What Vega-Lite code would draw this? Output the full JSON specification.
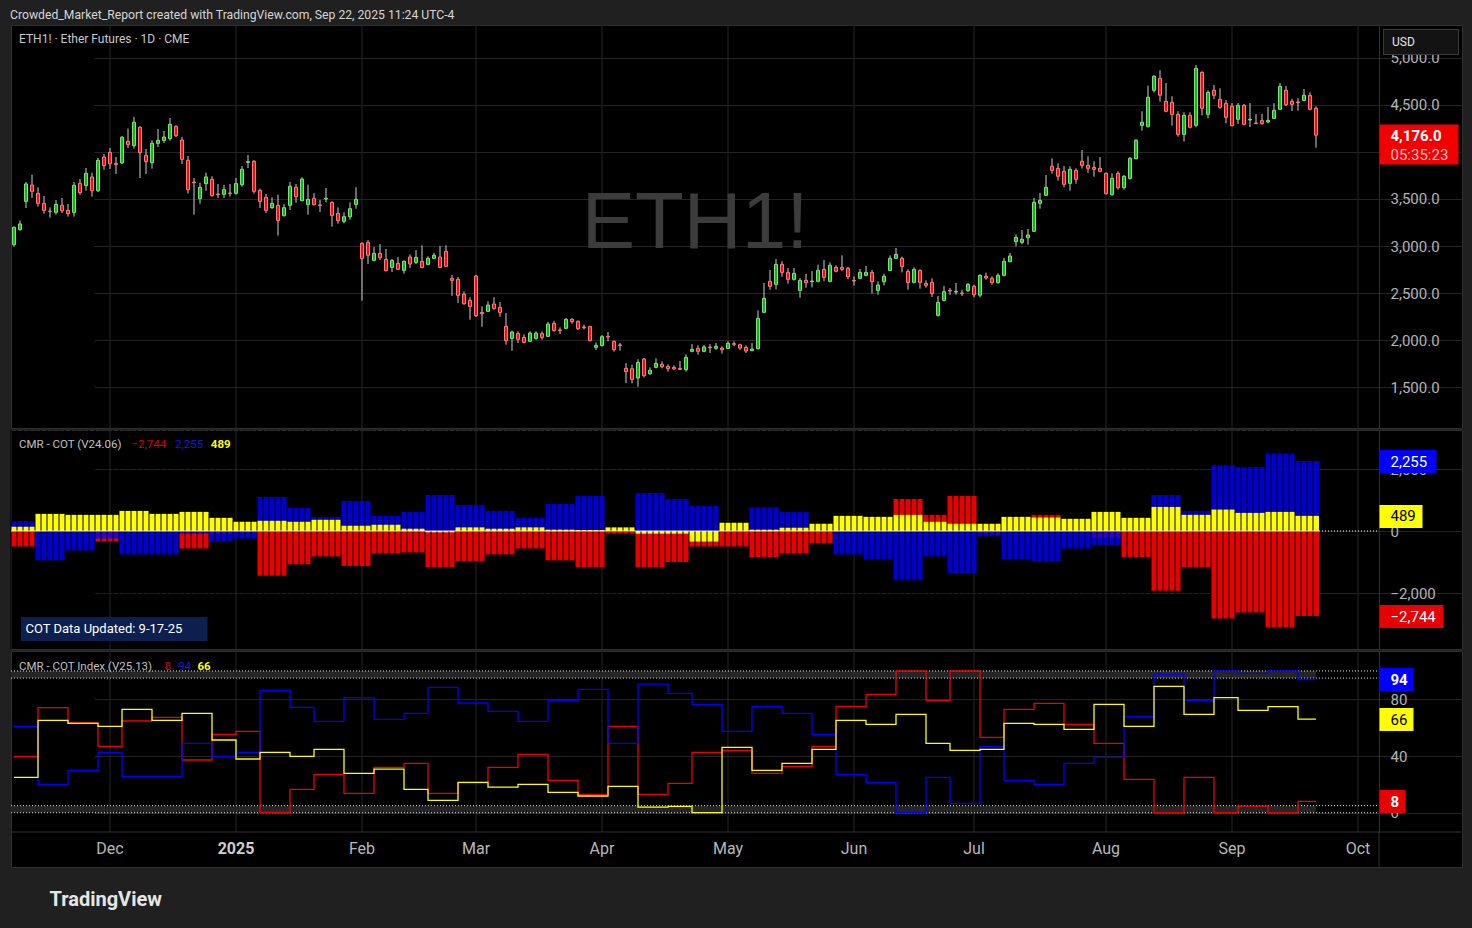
{
"$schema": "https://vega.github.io/schema/vega-lite/v6.json",
"background": "#202020",
"padding": {"left": 10, "right": 11, "top": 8, "bottom": 21},
"title": {"text": "Crowded_Market_Report created with TradingView.com, Sep 22, 2025 11:24 UTC-4", "anchor": "start", "font": "Roboto", "fontSize": 12.2, "fontWeight": "normal", "color": "#d6d6d6", "offset": 3},
"config": {"font": "Roboto", "view": {"fill": "#000000", "stroke": "#303030", "strokeWidth": 1}, "concat": {"spacing": 0}, "axis": {"labelFont": "Roboto", "gridColor": "#242424", "domainColor": "#303030"}},
"spacing": 0,
"resolve": {"scale": {"x": "shared"}},
"datasets": {
"months": [
{"d":"2024-12-02","m":"Dec"},{"d":"2025-01-02","m":"2025"},{"d":"2025-02-03","m":"Feb"},{"d":"2025-03-03","m":"Mar"},{"d":"2025-04-01","m":"Apr"},{"d":"2025-05-01","m":"May"},{"d":"2025-06-02","m":"Jun"},{"d":"2025-07-01","m":"Jul"},{"d":"2025-08-01","m":"Aug"},{"d":"2025-09-02","m":"Sep"},{"d":"2025-10-01","m":"Oct"}
],
"candles": [
{"d":"2024-11-07","o":3014,"h":3209,"l":2993,"c":3198},
{"d":"2024-11-08","o":3173,"h":3272,"l":3163,"c":3234},
{"d":"2024-11-11","o":3474,"h":3679,"l":3403,"c":3658},
{"d":"2024-11-12","o":3648,"h":3757,"l":3510,"c":3580},
{"d":"2024-11-13","o":3559,"h":3623,"l":3418,"c":3453},
{"d":"2024-11-14","o":3453,"h":3531,"l":3343,"c":3379},
{"d":"2024-11-15","o":3370,"h":3410,"l":3301,"c":3366},
{"d":"2024-11-18","o":3357,"h":3488,"l":3333,"c":3442},
{"d":"2024-11-19","o":3432,"h":3510,"l":3350,"c":3375},
{"d":"2024-11-20","o":3379,"h":3446,"l":3312,"c":3343},
{"d":"2024-11-21","o":3357,"h":3679,"l":3312,"c":3644},
{"d":"2024-11-22","o":3665,"h":3711,"l":3545,"c":3566},
{"d":"2024-11-25","o":3641,"h":3828,"l":3587,"c":3771},
{"d":"2024-11-26","o":3733,"h":3779,"l":3524,"c":3587},
{"d":"2024-11-27","o":3587,"h":3934,"l":3573,"c":3910},
{"d":"2024-11-29","o":3945,"h":3977,"l":3810,"c":3853},
{"d":"2024-12-02","o":3994,"h":4040,"l":3818,"c":3874},
{"d":"2024-12-03","o":3878,"h":3945,"l":3764,"c":3864},
{"d":"2024-12-04","o":3881,"h":4168,"l":3871,"c":4154},
{"d":"2024-12-05","o":4111,"h":4246,"l":4040,"c":4076},
{"d":"2024-12-06","o":4065,"h":4370,"l":4033,"c":4313},
{"d":"2024-12-09","o":4260,"h":4271,"l":3722,"c":3991},
{"d":"2024-12-10","o":3963,"h":4030,"l":3764,"c":3895},
{"d":"2024-12-11","o":3885,"h":4122,"l":3821,"c":4090},
{"d":"2024-12-12","o":4090,"h":4242,"l":4051,"c":4122},
{"d":"2024-12-13","o":4122,"h":4221,"l":4094,"c":4157},
{"d":"2024-12-16","o":4140,"h":4359,"l":4118,"c":4292},
{"d":"2024-12-17","o":4271,"h":4281,"l":4157,"c":4171},
{"d":"2024-12-18","o":4125,"h":4157,"l":3871,"c":3920},
{"d":"2024-12-19","o":3910,"h":3956,"l":3556,"c":3598},
{"d":"2024-12-20","o":3679,"h":3722,"l":3333,"c":3672},
{"d":"2024-12-23","o":3503,"h":3672,"l":3449,"c":3623},
{"d":"2024-12-24","o":3662,"h":3779,"l":3587,"c":3733},
{"d":"2024-12-26","o":3708,"h":3740,"l":3524,"c":3534},
{"d":"2024-12-27","o":3552,"h":3658,"l":3510,"c":3545},
{"d":"2024-12-30","o":3549,"h":3648,"l":3510,"c":3598},
{"d":"2024-12-31","o":3563,"h":3658,"l":3524,"c":3556},
{"d":"2025-01-02","o":3559,"h":3722,"l":3545,"c":3662},
{"d":"2025-01-03","o":3651,"h":3849,"l":3630,"c":3814},
{"d":"2025-01-06","o":3888,"h":3966,"l":3828,"c":3895},
{"d":"2025-01-07","o":3899,"h":3913,"l":3556,"c":3580},
{"d":"2025-01-08","o":3591,"h":3609,"l":3403,"c":3474},
{"d":"2025-01-09","o":3517,"h":3552,"l":3350,"c":3379},
{"d":"2025-01-10","o":3407,"h":3517,"l":3393,"c":3453},
{"d":"2025-01-13","o":3432,"h":3545,"l":3110,"c":3272},
{"d":"2025-01-14","o":3322,"h":3446,"l":3312,"c":3407},
{"d":"2025-01-15","o":3432,"h":3679,"l":3382,"c":3634},
{"d":"2025-01-16","o":3623,"h":3658,"l":3460,"c":3524},
{"d":"2025-01-17","o":3481,"h":3729,"l":3474,"c":3711},
{"d":"2025-01-21","o":3439,"h":3651,"l":3332,"c":3495},
{"d":"2025-01-22","o":3506,"h":3562,"l":3431,"c":3439},
{"d":"2025-01-23","o":3435,"h":3488,"l":3361,"c":3428},
{"d":"2025-01-24","o":3499,"h":3615,"l":3463,"c":3506},
{"d":"2025-01-27","o":3463,"h":3474,"l":3205,"c":3325},
{"d":"2025-01-28","o":3346,"h":3410,"l":3237,"c":3269},
{"d":"2025-01-29","o":3262,"h":3357,"l":3240,"c":3311},
{"d":"2025-01-30","o":3311,"h":3463,"l":3279,"c":3396},
{"d":"2025-01-31","o":3442,"h":3623,"l":3396,"c":3495},
{"d":"2025-02-03","o":3028,"h":3039,"l":2419,"c":2869},
{"d":"2025-02-04","o":3039,"h":3063,"l":2809,"c":2901},
{"d":"2025-02-05","o":2847,"h":2989,"l":2837,"c":2922},
{"d":"2025-02-06","o":2922,"h":3021,"l":2851,"c":2876},
{"d":"2025-02-07","o":2858,"h":2968,"l":2731,"c":2738},
{"d":"2025-02-10","o":2773,"h":2862,"l":2724,"c":2847},
{"d":"2025-02-11","o":2816,"h":2883,"l":2745,"c":2752},
{"d":"2025-02-12","o":2741,"h":2847,"l":2706,"c":2837},
{"d":"2025-02-13","o":2883,"h":2911,"l":2766,"c":2809},
{"d":"2025-02-14","o":2826,"h":2957,"l":2809,"c":2879},
{"d":"2025-02-18","o":2837,"h":3007,"l":2763,"c":2773},
{"d":"2025-02-19","o":2805,"h":2890,"l":2794,"c":2869},
{"d":"2025-02-20","o":2869,"h":2929,"l":2862,"c":2901},
{"d":"2025-02-21","o":2883,"h":3000,"l":2763,"c":2773},
{"d":"2025-02-24","o":2943,"h":3007,"l":2777,"c":2784},
{"d":"2025-02-25","o":2656,"h":2692,"l":2472,"c":2635},
{"d":"2025-02-26","o":2646,"h":2671,"l":2395,"c":2476},
{"d":"2025-02-27","o":2490,"h":2518,"l":2377,"c":2387},
{"d":"2025-02-28","o":2423,"h":2455,"l":2218,"c":2359},
{"d":"2025-03-03","o":2681,"h":2695,"l":2246,"c":2260},
{"d":"2025-03-04","o":2295,"h":2359,"l":2143,"c":2281},
{"d":"2025-03-05","o":2306,"h":2412,"l":2299,"c":2373},
{"d":"2025-03-06","o":2384,"h":2455,"l":2324,"c":2338},
{"d":"2025-03-07","o":2349,"h":2405,"l":2249,"c":2295},
{"d":"2025-03-10","o":2147,"h":2288,"l":1952,"c":1995},
{"d":"2025-03-11","o":2019,"h":2101,"l":1888,"c":2087},
{"d":"2025-03-12","o":2069,"h":2094,"l":1970,"c":2009},
{"d":"2025-03-13","o":2030,"h":2062,"l":1966,"c":1977},
{"d":"2025-03-14","o":1988,"h":2094,"l":1980,"c":2076},
{"d":"2025-03-17","o":2019,"h":2094,"l":2005,"c":2076},
{"d":"2025-03-18","o":2069,"h":2094,"l":2005,"c":2030},
{"d":"2025-03-19","o":2041,"h":2193,"l":2034,"c":2172},
{"d":"2025-03-20","o":2179,"h":2205,"l":2090,"c":2104},
{"d":"2025-03-21","o":2108,"h":2136,"l":2065,"c":2101},
{"d":"2025-03-24","o":2126,"h":2235,"l":2115,"c":2221},
{"d":"2025-03-25","o":2221,"h":2235,"l":2175,"c":2196},
{"d":"2025-03-26","o":2200,"h":2211,"l":2108,"c":2122},
{"d":"2025-03-27","o":2140,"h":2164,"l":2115,"c":2133},
{"d":"2025-03-28","o":2147,"h":2150,"l":1988,"c":1995},
{"d":"2025-03-31","o":1924,"h":1977,"l":1896,"c":1945},
{"d":"2025-04-01","o":1942,"h":2055,"l":1934,"c":2037},
{"d":"2025-04-02","o":2041,"h":2087,"l":1988,"c":2034},
{"d":"2025-04-03","o":1988,"h":1995,"l":1878,"c":1899},
{"d":"2025-04-04","o":1950,"h":1971,"l":1888,"c":1943},
{"d":"2025-04-07","o":1701,"h":1757,"l":1545,"c":1666},
{"d":"2025-04-08","o":1697,"h":1740,"l":1542,"c":1584},
{"d":"2025-04-09","o":1598,"h":1798,"l":1505,"c":1763},
{"d":"2025-04-10","o":1800,"h":1811,"l":1606,"c":1623},
{"d":"2025-04-11","o":1644,"h":1712,"l":1634,"c":1680},
{"d":"2025-04-14","o":1712,"h":1807,"l":1701,"c":1754},
{"d":"2025-04-15","o":1744,"h":1775,"l":1701,"c":1719},
{"d":"2025-04-16","o":1722,"h":1744,"l":1666,"c":1698},
{"d":"2025-04-17","o":1712,"h":1733,"l":1687,"c":1694},
{"d":"2025-04-21","o":1701,"h":1779,"l":1683,"c":1690},
{"d":"2025-04-22","o":1687,"h":1850,"l":1666,"c":1818},
{"d":"2025-04-23","o":1882,"h":1959,"l":1871,"c":1903},
{"d":"2025-04-24","o":1913,"h":1945,"l":1846,"c":1882},
{"d":"2025-04-25","o":1882,"h":1949,"l":1871,"c":1928},
{"d":"2025-04-28","o":1928,"h":1959,"l":1864,"c":1920},
{"d":"2025-04-29","o":1913,"h":1970,"l":1899,"c":1935},
{"d":"2025-04-30","o":1917,"h":1935,"l":1857,"c":1899},
{"d":"2025-05-01","o":1913,"h":1988,"l":1906,"c":1966},
{"d":"2025-05-02","o":1963,"h":1988,"l":1938,"c":1956},
{"d":"2025-05-05","o":1952,"h":1963,"l":1899,"c":1917},
{"d":"2025-05-06","o":1924,"h":1945,"l":1864,"c":1885},
{"d":"2025-05-07","o":1889,"h":1970,"l":1885,"c":1906},
{"d":"2025-05-08","o":1910,"h":2317,"l":1903,"c":2232},
{"d":"2025-05-09","o":2296,"h":2607,"l":2288,"c":2444},
{"d":"2025-05-12","o":2625,"h":2745,"l":2536,"c":2572},
{"d":"2025-05-13","o":2593,"h":2862,"l":2540,"c":2805},
{"d":"2025-05-14","o":2805,"h":2837,"l":2674,"c":2720},
{"d":"2025-05-15","o":2720,"h":2766,"l":2600,"c":2646},
{"d":"2025-05-16","o":2646,"h":2766,"l":2632,"c":2710},
{"d":"2025-05-19","o":2529,"h":2660,"l":2451,"c":2635},
{"d":"2025-05-20","o":2635,"h":2703,"l":2557,"c":2611},
{"d":"2025-05-21","o":2621,"h":2734,"l":2561,"c":2628},
{"d":"2025-05-22","o":2625,"h":2802,"l":2614,"c":2741},
{"d":"2025-05-23","o":2752,"h":2851,"l":2625,"c":2667},
{"d":"2025-05-27","o":2625,"h":2826,"l":2614,"c":2795},
{"d":"2025-05-28","o":2773,"h":2795,"l":2720,"c":2731},
{"d":"2025-05-29","o":2773,"h":2901,"l":2731,"c":2752},
{"d":"2025-05-30","o":2763,"h":2777,"l":2646,"c":2674},
{"d":"2025-06-02","o":2635,"h":2678,"l":2579,"c":2628},
{"d":"2025-06-03","o":2657,"h":2756,"l":2646,"c":2720},
{"d":"2025-06-04","o":2688,"h":2788,"l":2678,"c":2720},
{"d":"2025-06-05","o":2720,"h":2745,"l":2494,"c":2621},
{"d":"2025-06-06","o":2529,"h":2625,"l":2483,"c":2586},
{"d":"2025-06-09","o":2621,"h":2706,"l":2582,"c":2678},
{"d":"2025-06-10","o":2741,"h":2901,"l":2734,"c":2869},
{"d":"2025-06-11","o":2869,"h":2979,"l":2862,"c":2911},
{"d":"2025-06-12","o":2869,"h":2887,"l":2720,"c":2784},
{"d":"2025-06-13","o":2731,"h":2752,"l":2536,"c":2614},
{"d":"2025-06-16","o":2614,"h":2773,"l":2603,"c":2752},
{"d":"2025-06-17","o":2741,"h":2752,"l":2547,"c":2614},
{"d":"2025-06-18","o":2603,"h":2635,"l":2557,"c":2582},
{"d":"2025-06-20","o":2614,"h":2657,"l":2458,"c":2497},
{"d":"2025-06-23","o":2264,"h":2469,"l":2250,"c":2402},
{"d":"2025-06-24","o":2423,"h":2575,"l":2412,"c":2515},
{"d":"2025-06-25","o":2529,"h":2554,"l":2483,"c":2522},
{"d":"2025-06-26","o":2511,"h":2607,"l":2483,"c":2518},
{"d":"2025-06-27","o":2501,"h":2536,"l":2469,"c":2494},
{"d":"2025-06-30","o":2526,"h":2607,"l":2515,"c":2593},
{"d":"2025-07-01","o":2572,"h":2589,"l":2455,"c":2483},
{"d":"2025-07-02","o":2478,"h":2700,"l":2455,"c":2688},
{"d":"2025-07-03","o":2678,"h":2717,"l":2642,"c":2660},
{"d":"2025-07-07","o":2657,"h":2678,"l":2589,"c":2611},
{"d":"2025-07-08","o":2611,"h":2710,"l":2600,"c":2688},
{"d":"2025-07-09","o":2688,"h":2872,"l":2678,"c":2837},
{"d":"2025-07-10","o":2834,"h":2926,"l":2827,"c":2894},
{"d":"2025-07-11","o":3046,"h":3124,"l":2996,"c":3092},
{"d":"2025-07-14","o":3039,"h":3170,"l":3021,"c":3071},
{"d":"2025-07-15","o":3088,"h":3180,"l":3014,"c":3117},
{"d":"2025-07-16","o":3156,"h":3510,"l":3149,"c":3464},
{"d":"2025-07-17","o":3453,"h":3563,"l":3396,"c":3485},
{"d":"2025-07-18","o":3538,"h":3754,"l":3531,"c":3623},
{"d":"2025-07-21","o":3846,"h":3931,"l":3768,"c":3803},
{"d":"2025-07-22","o":3824,"h":3878,"l":3694,"c":3740},
{"d":"2025-07-23","o":3793,"h":3849,"l":3623,"c":3655},
{"d":"2025-07-24","o":3665,"h":3846,"l":3587,"c":3814},
{"d":"2025-07-25","o":3803,"h":3824,"l":3662,"c":3708},
{"d":"2025-07-28","o":3899,"h":4019,"l":3821,"c":3856},
{"d":"2025-07-29","o":3856,"h":3952,"l":3775,"c":3824},
{"d":"2025-07-30","o":3835,"h":3899,"l":3736,"c":3814},
{"d":"2025-07-31","o":3824,"h":3945,"l":3782,"c":3793},
{"d":"2025-08-01","o":3771,"h":3782,"l":3545,"c":3555},
{"d":"2025-08-04","o":3545,"h":3771,"l":3534,"c":3718},
{"d":"2025-08-05","o":3771,"h":3793,"l":3598,"c":3619},
{"d":"2025-08-06","o":3619,"h":3754,"l":3598,"c":3740},
{"d":"2025-08-07","o":3718,"h":3945,"l":3704,"c":3931},
{"d":"2025-08-08","o":3927,"h":4136,"l":3920,"c":4122},
{"d":"2025-08-11","o":4281,"h":4430,"l":4224,"c":4313},
{"d":"2025-08-12","o":4270,"h":4702,"l":4256,"c":4578},
{"d":"2025-08-13","o":4653,"h":4815,"l":4631,"c":4801},
{"d":"2025-08-14","o":4780,"h":4865,"l":4532,"c":4600},
{"d":"2025-08-15","o":4536,"h":4730,"l":4419,"c":4430},
{"d":"2025-08-18","o":4525,"h":4589,"l":4277,"c":4398},
{"d":"2025-08-19","o":4398,"h":4430,"l":4161,"c":4185},
{"d":"2025-08-20","o":4185,"h":4419,"l":4108,"c":4387},
{"d":"2025-08-21","o":4387,"h":4419,"l":4249,"c":4260},
{"d":"2025-08-22","o":4281,"h":4922,"l":4260,"c":4886},
{"d":"2025-08-25","o":4844,"h":4854,"l":4387,"c":4462},
{"d":"2025-08-26","o":4398,"h":4653,"l":4355,"c":4631},
{"d":"2025-08-27","o":4653,"h":4709,"l":4561,"c":4600},
{"d":"2025-08-28","o":4557,"h":4674,"l":4458,"c":4472},
{"d":"2025-08-29","o":4515,"h":4550,"l":4302,"c":4366},
{"d":"2025-09-02","o":4483,"h":4518,"l":4270,"c":4277},
{"d":"2025-09-03","o":4345,"h":4518,"l":4295,"c":4493},
{"d":"2025-09-04","o":4493,"h":4508,"l":4281,"c":4292},
{"d":"2025-09-05","o":4338,"h":4518,"l":4263,"c":4345},
{"d":"2025-09-08","o":4306,"h":4401,"l":4295,"c":4299},
{"d":"2025-09-09","o":4331,"h":4401,"l":4288,"c":4299},
{"d":"2025-09-10","o":4316,"h":4476,"l":4302,"c":4334},
{"d":"2025-09-11","o":4355,"h":4515,"l":4348,"c":4440},
{"d":"2025-09-12","o":4451,"h":4730,"l":4444,"c":4695},
{"d":"2025-09-15","o":4653,"h":4699,"l":4486,"c":4500},
{"d":"2025-09-16","o":4536,"h":4561,"l":4433,"c":4504},
{"d":"2025-09-17","o":4529,"h":4568,"l":4437,"c":4522},
{"d":"2025-09-18","o":4546,"h":4667,"l":4536,"c":4600},
{"d":"2025-09-19","o":4600,"h":4631,"l":4440,"c":4451},
{"d":"2025-09-22","o":4462,"h":4483,"l":4044,"c":4176}
],
"cot": [
{"d":"2024-11-07","e":"2024-11-13","r":-500,"b":319,"y":138},
{"d":"2024-11-13","e":"2024-11-20","r":394,"b":-947,"y":553},
{"d":"2024-11-20","e":"2024-11-27","r":107,"b":-628,"y":521},
{"d":"2024-11-27","e":"2024-12-04","r":-330,"b":-245,"y":521},
{"d":"2024-12-04","e":"2024-12-11","r":106,"b":-755,"y":649},
{"d":"2024-12-11","e":"2024-12-18","r":202,"b":-755,"y":553},
{"d":"2024-12-18","e":"2024-12-26","r":-564,"b":-85,"y":617},
{"d":"2024-12-26","e":"2025-01-02","r":-96,"b":-330,"y":426},
{"d":"2025-01-02","e":"2025-01-08","r":-53,"b":-245,"y":298},
{"d":"2025-01-08","e":"2025-01-15","r":-1447,"b":1096,"y":330},
{"d":"2025-01-15","e":"2025-01-22","r":-1075,"b":745,"y":298},
{"d":"2025-01-22","e":"2025-01-29","r":-819,"b":458,"y":362},
{"d":"2025-01-29","e":"2025-02-05","r":-1128,"b":968,"y":170},
{"d":"2025-02-05","e":"2025-02-12","r":-724,"b":489,"y":202},
{"d":"2025-02-12","e":"2025-02-19","r":-692,"b":617,"y":74},
{"d":"2025-02-19","e":"2025-02-26","r":-1160,"b":1160,"y":-43},
{"d":"2025-02-26","e":"2025-03-05","r":-968,"b":841,"y":117},
{"d":"2025-03-05","e":"2025-03-12","r":-755,"b":649,"y":74},
{"d":"2025-03-12","e":"2025-03-19","r":-564,"b":426,"y":117},
{"d":"2025-03-19","e":"2025-03-26","r":-947,"b":872,"y":43},
{"d":"2025-03-26","e":"2025-04-02","r":-1160,"b":1128,"y":30},
{"d":"2025-04-02","e":"2025-04-09","r":-85,"b":-30,"y":117},
{"d":"2025-04-09","e":"2025-04-16","r":-1160,"b":1224,"y":-85},
{"d":"2025-04-16","e":"2025-04-23","r":-1000,"b":1032,"y":-85},
{"d":"2025-04-23","e":"2025-04-30","r":-500,"b":809,"y":-340},
{"d":"2025-04-30","e":"2025-05-07","r":-500,"b":234,"y":266},
{"d":"2025-05-07","e":"2025-05-14","r":-840,"b":766,"y":43},
{"d":"2025-05-14","e":"2025-05-21","r":-724,"b":617,"y":106},
{"d":"2025-05-21","e":"2025-05-28","r":-394,"b":160,"y":234},
{"d":"2025-05-28","e":"2025-06-04","r":266,"b":-755,"y":489},
{"d":"2025-06-04","e":"2025-06-11","r":447,"b":-904,"y":457},
{"d":"2025-06-11","e":"2025-06-18","r":1032,"b":-1585,"y":521},
{"d":"2025-06-18","e":"2025-06-25","r":521,"b":-819,"y":298},
{"d":"2025-06-25","e":"2025-07-02","r":1128,"b":-1351,"y":234},
{"d":"2025-07-02","e":"2025-07-09","r":-64,"b":-170,"y":234},
{"d":"2025-07-09","e":"2025-07-16","r":447,"b":-904,"y":457},
{"d":"2025-07-16","e":"2025-07-23","r":521,"b":-968,"y":436},
{"d":"2025-07-23","e":"2025-07-30","r":170,"b":-564,"y":394},
{"d":"2025-07-30","e":"2025-08-06","r":-213,"b":-447,"y":617},
{"d":"2025-08-06","e":"2025-08-13","r":-840,"b":414,"y":426},
{"d":"2025-08-13","e":"2025-08-20","r":-1926,"b":1160,"y":777},
{"d":"2025-08-20","e":"2025-08-27","r":-1160,"b":649,"y":521},
{"d":"2025-08-27","e":"2025-09-03","r":-2820,"b":2117,"y":692},
{"d":"2025-09-03","e":"2025-09-10","r":-2628,"b":2054,"y":585},
{"d":"2025-09-10","e":"2025-09-17","r":-3107,"b":2500,"y":617},
{"d":"2025-09-17","e":"2025-09-23","r":-2744,"b":2255,"y":489}
],
"idx": [
{"d":"2024-11-07","r":39.8,"b":60.9,"y":25.0},
{"d":"2024-11-13","r":74.1,"b":20.0,"y":65.2},
{"d":"2024-11-20","r":63.6,"b":29.9,"y":63.1},
{"d":"2024-11-27","r":46.8,"b":42.6,"y":60.9},
{"d":"2024-12-04","r":64.7,"b":25.7,"y":72.9},
{"d":"2024-12-11","r":67.3,"b":25.7,"y":65.2},
{"d":"2024-12-18","r":37.2,"b":48.9,"y":70.1},
{"d":"2024-12-26","r":55.3,"b":39.8,"y":51.3},
{"d":"2025-01-02","r":57.4,"b":42.6,"y":37.9},
{"d":"2025-01-08","r":0.3,"b":86.3,"y":42.6},
{"d":"2025-01-15","r":16.5,"b":74.3,"y":39.8},
{"d":"2025-01-22","r":27.1,"b":64.5,"y":44.7},
{"d":"2025-01-29","r":13.7,"b":81.2,"y":27.8},
{"d":"2025-02-05","r":32.0,"b":65.9,"y":30.8},
{"d":"2025-02-12","r":34.8,"b":70.1,"y":16.5},
{"d":"2025-02-19","r":13.7,"b":88.5,"y":8.7},
{"d":"2025-02-26","r":21.2,"b":77.4,"y":21.4},
{"d":"2025-03-05","r":32.0,"b":71.5,"y":18.1},
{"d":"2025-03-12","r":41.2,"b":64.5,"y":20.0},
{"d":"2025-03-19","r":22.8,"b":79.3,"y":14.4},
{"d":"2025-03-26","r":13.0,"b":87.0,"y":11.8},
{"d":"2025-04-02","r":60.9,"b":48.9,"y":18.6},
{"d":"2025-04-09","r":13.0,"b":90.8,"y":4.0},
{"d":"2025-04-16","r":20.7,"b":84.2,"y":4.5},
{"d":"2025-04-23","r":42.6,"b":76.5,"y":0},
{"d":"2025-04-30","r":44.0,"b":57.4,"y":46.1},
{"d":"2025-05-07","r":27.8,"b":75.1,"y":29.9},
{"d":"2025-05-14","r":32.7,"b":70.1,"y":34.8},
{"d":"2025-05-21","r":46.8,"b":55.3,"y":44.7},
{"d":"2025-05-28","r":75.1,"b":27.1,"y":65.2},
{"d":"2025-06-04","r":83.5,"b":21.4,"y":62.4},
{"d":"2025-06-11","r":100,"b":0,"y":69.4},
{"d":"2025-06-18","r":79.3,"b":25.0,"y":48.9},
{"d":"2025-06-25","r":100,"b":6.6,"y":44.0},
{"d":"2025-07-02","r":53.2,"b":46.6,"y":44.7},
{"d":"2025-07-09","r":72.9,"b":22.8,"y":63.1},
{"d":"2025-07-16","r":77.2,"b":20.0,"y":62.4},
{"d":"2025-07-23","r":62.4,"b":34.8,"y":58.8},
{"d":"2025-07-30","r":48.9,"b":39.1,"y":76.5},
{"d":"2025-08-06","r":23.5,"b":67.8,"y":60.9},
{"d":"2025-08-13","r":0,"b":97.6,"y":89.2},
{"d":"2025-08-20","r":25.0,"b":79.3,"y":69.4},
{"d":"2025-08-27","r":0,"b":100,"y":81.2},
{"d":"2025-09-03","r":4.7,"b":98.3,"y":72.2},
{"d":"2025-09-10","r":0,"b":100,"y":74.8},
{"d":"2025-09-17","r":8,"b":94,"y":66},
{"d":"2025-09-22","r":8,"b":94,"y":66}
]
},
"vconcat": [
{
"width": 1451, "height": 403,
"resolve": {"axis": {"y": "independent"}},
"layer": [
{"data": {"name": "months"}, "mark": {"type": "rule", "color": "#242424", "strokeWidth": 1},
 "encoding": {"x": {"field": "d", "type": "ordinal", "axis": null}}},
{"data": {"values": [{}]}, "mark": {"type": "text", "text": "ETH1!", "font": "Liberation Sans", "fontSize": 80, "color": "#3c3c3c", "align": "center", "baseline": "middle"},
 "encoding": {"x": {"datum": "2025-04-24", "type": "ordinal", "bandPosition": 0, "axis": null}, "y": {"datum": 3234, "type": "quantitative", "axis": null}}},
{"data": {"name": "candles"}, "mark": {"type": "rule", "color": "#cfcfcf", "strokeWidth": 1},
 "encoding": {
  "x": {"field": "d", "type": "ordinal",
   "scale": {"type": "band", "paddingInner": 0, "paddingOuter": 0, "range": [0, 1368],
    "domain": ["2024-11-07","2024-11-08","2024-11-11","2024-11-12","2024-11-13","2024-11-14","2024-11-15","2024-11-18","2024-11-19","2024-11-20","2024-11-21","2024-11-22","2024-11-25","2024-11-26","2024-11-27","2024-11-29","2024-12-02","2024-12-03","2024-12-04","2024-12-05","2024-12-06","2024-12-09","2024-12-10","2024-12-11","2024-12-12","2024-12-13","2024-12-16","2024-12-17","2024-12-18","2024-12-19","2024-12-20","2024-12-23","2024-12-24","2024-12-26","2024-12-27","2024-12-30","2024-12-31","2025-01-02","2025-01-03","2025-01-06","2025-01-07","2025-01-08","2025-01-09","2025-01-10","2025-01-13","2025-01-14","2025-01-15","2025-01-16","2025-01-17","2025-01-21","2025-01-22","2025-01-23","2025-01-24","2025-01-27","2025-01-28","2025-01-29","2025-01-30","2025-01-31","2025-02-03","2025-02-04","2025-02-05","2025-02-06","2025-02-07","2025-02-10","2025-02-11","2025-02-12","2025-02-13","2025-02-14","2025-02-18","2025-02-19","2025-02-20","2025-02-21","2025-02-24","2025-02-25","2025-02-26","2025-02-27","2025-02-28","2025-03-03","2025-03-04","2025-03-05","2025-03-06","2025-03-07","2025-03-10","2025-03-11","2025-03-12","2025-03-13","2025-03-14","2025-03-17","2025-03-18","2025-03-19","2025-03-20","2025-03-21","2025-03-24","2025-03-25","2025-03-26","2025-03-27","2025-03-28","2025-03-31","2025-04-01","2025-04-02","2025-04-03","2025-04-04","2025-04-07","2025-04-08","2025-04-09","2025-04-10","2025-04-11","2025-04-14","2025-04-15","2025-04-16","2025-04-17","2025-04-21","2025-04-22","2025-04-23","2025-04-24","2025-04-25","2025-04-28","2025-04-29","2025-04-30","2025-05-01","2025-05-02","2025-05-05","2025-05-06","2025-05-07","2025-05-08","2025-05-09","2025-05-12","2025-05-13","2025-05-14","2025-05-15","2025-05-16","2025-05-19","2025-05-20","2025-05-21","2025-05-22","2025-05-23","2025-05-27","2025-05-28","2025-05-29","2025-05-30","2025-06-02","2025-06-03","2025-06-04","2025-06-05","2025-06-06","2025-06-09","2025-06-10","2025-06-11","2025-06-12","2025-06-13","2025-06-16","2025-06-17","2025-06-18","2025-06-20","2025-06-23","2025-06-24","2025-06-25","2025-06-26","2025-06-27","2025-06-30","2025-07-01","2025-07-02","2025-07-03","2025-07-07","2025-07-08","2025-07-09","2025-07-10","2025-07-11","2025-07-14","2025-07-15","2025-07-16","2025-07-17","2025-07-18","2025-07-21","2025-07-22","2025-07-23","2025-07-24","2025-07-25","2025-07-28","2025-07-29","2025-07-30","2025-07-31","2025-08-01","2025-08-04","2025-08-05","2025-08-06","2025-08-07","2025-08-08","2025-08-11","2025-08-12","2025-08-13","2025-08-14","2025-08-15","2025-08-18","2025-08-19","2025-08-20","2025-08-21","2025-08-22","2025-08-25","2025-08-26","2025-08-27","2025-08-28","2025-08-29","2025-09-02","2025-09-03","2025-09-04","2025-09-05","2025-09-08","2025-09-09","2025-09-10","2025-09-11","2025-09-12","2025-09-15","2025-09-16","2025-09-17","2025-09-18","2025-09-19","2025-09-22","2025-09-23","2025-09-24","2025-09-25","2025-09-26","2025-09-29","2025-09-30","2025-10-01","2025-10-02","2025-10-03","2025-10-06"]},
   "axis": null},
  "y": {"field": "l", "type": "quantitative", "scale": {"domain": [1068, 5346], "nice": false, "zero": false},
   "axis": {"orient": "right", "offset": -83, "values": [1500,2000,2500,3000,3500,4000,4500,5000], "format": ",.1f", "ticks": false, "tickSize": 0, "labelPadding": 11, "domain": true, "domainColor": "#303030", "grid": true, "gridColor": "#242424", "labelColor": "#b4b4b4", "labelFontSize": 15, "labelFlush": false, "labelOverlap": false, "labelBaseline": "middle", "title": null}},
  "y2": {"field": "h"}}},
{"data": {"name": "candles"}, "mark": {"type": "bar", "size": 3, "strokeWidth": 1},
 "encoding": {
  "x": {"field": "d", "type": "ordinal", "axis": null},
  "y": {"field": "o", "type": "quantitative", "axis": null},
  "y2": {"field": "c"},
  "color": {"condition": {"test": "datum.c >= datum.o", "value": "#10b810"}, "value": "#ee1111"},
  "stroke": {"condition": {"test": "datum.c >= datum.o", "value": "#7fe07f"}, "value": "#ff7a7a"}}},
{"data": {"values": [{}]}, "mark": {"type": "text", "text": "ETH1! · Ether Futures · 1D · CME", "fontSize": 12, "color": "#c8c8c8", "align": "left", "baseline": "middle"},
 "encoding": {"x": {"datum": "2024-11-08", "type": "ordinal", "bandPosition": 0.33, "axis": null}, "y": {"datum": 5197, "type": "quantitative", "axis": null}}},
{"data": {"values": [{}]}, "mark": {"type": "rule", "opacity": 0},
 "encoding": {"y": {"datum": 5208, "type": "quantitative",
  "axis": {"orient": "right", "offset": -83, "translate": 4, "values": [5208], "labels": false, "ticks": true, "tickSize": 76, "tickWidth": 26, "tickColor": "#3a3a3a", "tickCap": "butt", "tickRound": false, "grid": false, "domain": false, "title": null}}}},
{"data": {"values": [{}]}, "mark": {"type": "rule", "opacity": 0},
 "encoding": {"y": {"datum": 5219, "type": "quantitative",
  "axis": {"orient": "right", "offset": -83, "translate": 5, "values": [5219], "labelExpr": "'USD'", "ticks": true, "tickSize": 74, "tickWidth": 24, "tickColor": "#131313", "tickCap": "butt", "tickRound": false, "labelPadding": -66, "labelColor": "#e6e6e6", "labelFontSize": 12, "labelAlign": "left", "labelBaseline": "middle", "grid": false, "domain": false, "labelFlush": false, "labelOverlap": false, "title": null}}}},
{"data": {"values": [{}]}, "mark": {"type": "rule", "opacity": 0},
 "encoding": {"y": {"datum": 4176, "type": "quantitative",
  "axis": {"orient": "right", "offset": -83, "values": [4176], "format": ",.1f", "ticks": true, "tickSize": 79, "tickWidth": 22, "tickColor": "#f20000", "tickCap": "butt", "labelPadding": -68, "labelColor": "#ffffff", "labelFontWeight": "bold", "labelFontSize": 15, "labelAlign": "left", "labelBaseline": "middle", "grid": false, "domain": false, "labelFlush": false, "labelOverlap": false, "title": null}}}},
{"data": {"values": [{}]}, "mark": {"type": "rule", "opacity": 0},
 "encoding": {"y": {"datum": 4176, "type": "quantitative",
  "axis": {"orient": "right", "offset": -83, "values": [4176], "labelExpr": "'05:35:23'", "tickOffset": 19, "ticks": true, "tickSize": 79, "tickWidth": 20, "tickColor": "#f20000", "tickCap": "butt", "labelPadding": -68, "labelColor": "#ffc2c2", "labelFontSize": 15, "labelAlign": "left", "labelBaseline": "middle", "grid": false, "domain": false, "labelFlush": false, "labelOverlap": false, "title": null}}}}
]
},
{
"width": 1451, "height": 219,
"resolve": {"axis": {"y": "independent"}},
"layer": [
{"data": {"name": "months"}, "mark": {"type": "rule", "color": "#242424", "strokeWidth": 1},
 "encoding": {"x": {"field": "d", "type": "ordinal", "axis": null}}},
{"data": {"name": "cot"}, "mark": {"type": "rect", "color": "#e60000"},
 "encoding": {
  "x": {"field": "d", "type": "ordinal", "bandPosition": 0, "axis": null},
  "x2": {"field": "e", "bandPosition": 0},
  "y": {"field": "r", "type": "quantitative", "scale": {"domain": [-3806, 3258], "nice": false, "zero": false},
   "axis": {"orient": "right", "offset": -83, "values": [-2000, 0, 2000], "format": ",.0f", "ticks": false, "tickSize": 0, "labelPadding": 11, "domain": true, "domainColor": "#303030", "grid": true, "gridColor": "#242424", "labelColor": "#b4b4b4", "labelFontSize": 15, "labelFlush": false, "labelOverlap": false, "labelBaseline": "middle", "title": null}},
  "y2": {"datum": 0}}},
{"data": {"name": "cot"}, "mark": {"type": "rect", "color": "#0000ff", "opacity": 0.8},
 "encoding": {"x": {"field": "d", "type": "ordinal", "bandPosition": 0, "axis": null}, "x2": {"field": "e", "bandPosition": 0}, "y": {"field": "b", "type": "quantitative", "axis": null}, "y2": {"datum": 0}}},
{"data": {"name": "cot"}, "mark": {"type": "rect", "color": "#ffff00"},
 "encoding": {"x": {"field": "d", "type": "ordinal", "bandPosition": 0, "axis": null}, "x2": {"field": "e", "bandPosition": 0}, "y": {"field": "y", "type": "quantitative", "axis": null}, "y2": {"datum": 0}}},
{"data": {"name": "candles"}, "mark": {"type": "rule", "color": "#000000", "strokeWidth": 1},
 "encoding": {"x": {"field": "d", "type": "ordinal", "bandPosition": 0, "axis": null}}},
{"data": {"values": [{}]}, "mark": {"type": "rule", "color": "#ffffff", "strokeWidth": 1, "opacity": 0.85},
 "encoding": {"x": {"datum": "2024-11-07", "type": "ordinal", "bandPosition": 0, "axis": null}, "x2": {"datum": "2025-09-22", "bandPosition": 1}, "y": {"datum": 0, "type": "quantitative", "axis": null}}},
{"data": {"values": [{}]}, "mark": {"type": "rule", "color": "#ffffff", "strokeWidth": 1, "strokeDash": [1, 2]},
 "encoding": {"x": {"datum": "2025-09-23", "type": "ordinal", "bandPosition": 0, "axis": null}, "x2": {"datum": "2025-10-06", "bandPosition": 1}, "y": {"datum": 0, "type": "quantitative", "axis": null}}},
{"data": {"values": [{}]}, "mark": {"type": "text", "text": "CMR - COT (V24.06)", "fontSize": 11.5, "color": "#c0c0c0", "align": "left", "baseline": "middle"},
 "encoding": {"x": {"datum": "2024-11-08", "type": "ordinal", "bandPosition": 0.33, "axis": null}, "y": {"datum": 2765, "type": "quantitative", "axis": null}}},
{"data": {"values": [{}]}, "mark": {"type": "text", "text": "−2,744", "fontSize": 11.5, "color": "#d80000", "align": "left", "baseline": "middle"},
 "encoding": {"x": {"datum": "2024-12-06", "type": "ordinal", "bandPosition": 0.08, "axis": null}, "y": {"datum": 2765, "type": "quantitative", "axis": null}}},
{"data": {"values": [{}]}, "mark": {"type": "text", "text": "2,255", "fontSize": 11.5, "color": "#1818e0", "align": "left", "baseline": "middle"},
 "encoding": {"x": {"datum": "2024-12-17", "type": "ordinal", "bandPosition": 0.33, "axis": null}, "y": {"datum": 2765, "type": "quantitative", "axis": null}}},
{"data": {"values": [{}]}, "mark": {"type": "text", "text": "489", "fontSize": 11.5, "fontWeight": "bold", "color": "#ffff00", "align": "left", "baseline": "middle"},
 "encoding": {"x": {"datum": "2024-12-26", "type": "ordinal", "bandPosition": 0.3, "axis": null}, "y": {"datum": 2765, "type": "quantitative", "axis": null}}},
{"data": {"values": [{}]}, "mark": {"type": "rect", "color": "#0d1f4f"},
 "encoding": {"x": {"datum": "2024-11-08", "type": "ordinal", "bandPosition": 0.67, "axis": null}, "x2": {"datum": "2024-12-24", "bandPosition": 0.75}, "y": {"datum": -2774, "type": "quantitative", "axis": null}, "y2": {"datum": -3549}}},
{"data": {"values": [{}]}, "mark": {"type": "text", "text": "COT Data Updated:  9-17-25", "fontSize": 13, "color": "#ffffff", "align": "left", "baseline": "middle"},
 "encoding": {"x": {"datum": "2024-11-11", "type": "ordinal", "bandPosition": 0.42, "axis": null}, "y": {"datum": -3161, "type": "quantitative", "axis": null}}},
{"data": {"values": [{}]}, "mark": {"type": "rule", "opacity": 0},
 "encoding": {"y": {"datum": 2255, "type": "quantitative",
  "axis": {"orient": "right", "offset": -83, "values": [2255], "format": ",.0f", "ticks": true, "tickSize": 57, "tickWidth": 23, "tickColor": "#0000ff", "tickCap": "butt", "labelPadding": -46, "labelColor": "#ffffff", "labelFontSize": 15, "labelAlign": "left", "labelBaseline": "middle", "grid": false, "domain": false, "labelFlush": false, "labelOverlap": false, "title": null}}}},
{"data": {"values": [{}]}, "mark": {"type": "rule", "opacity": 0},
 "encoding": {"y": {"datum": 489, "type": "quantitative",
  "axis": {"orient": "right", "offset": -83, "values": [489], "format": ",.0f", "ticks": true, "tickSize": 43, "tickWidth": 23, "tickColor": "#ffff00", "tickCap": "butt", "labelPadding": -32, "labelColor": "#000000", "labelFontSize": 15, "labelAlign": "left", "labelBaseline": "middle", "grid": false, "domain": false, "labelFlush": false, "labelOverlap": false, "title": null}}}},
{"data": {"values": [{}]}, "mark": {"type": "rule", "opacity": 0},
 "encoding": {"y": {"datum": -2744, "type": "quantitative",
  "axis": {"orient": "right", "offset": -83, "values": [-2744], "format": ",.0f", "ticks": true, "tickSize": 64, "tickWidth": 23, "tickColor": "#e60000", "tickCap": "butt", "labelPadding": -53, "labelColor": "#ffffff", "labelFontSize": 15, "labelAlign": "left", "labelBaseline": "middle", "grid": false, "domain": false, "labelFlush": false, "labelOverlap": false, "title": null}}}}
]
},
{
"width": 1451, "height": 216,
"title": {"text": "TradingView", "orient": "bottom", "anchor": "start", "font": "Roboto", "fontSize": 20, "fontWeight": "bold", "color": "#e6e6e6", "offset": 22, "dx": 39},
"resolve": {"axis": {"y": "independent"}},
"layer": [
{"data": {"name": "months"}, "mark": {"type": "rule", "color": "#242424", "strokeWidth": 1},
 "encoding": {"x": {"field": "d", "type": "ordinal", "axis": null}, "y": {"datum": -13.6, "type": "quantitative", "axis": null}, "y2": {"datum": 114.1}}},
{"data": {"values": [{"lo": 0, "hi": 5}, {"lo": 95, "hi": 100}]}, "mark": {"type": "rect", "color": "#252525"},
 "encoding": {
  "x": {"datum": "2024-11-07", "type": "ordinal", "bandPosition": 0, "axis": null},
  "x2": {"datum": "2025-09-22", "bandPosition": 0.5},
  "y": {"field": "lo", "type": "quantitative", "axis": null}, "y2": {"field": "hi"}}},
{"data": {"values": [{"v": 100}, {"v": 95}, {"v": 5}, {"v": 0}]}, "mark": {"type": "rule", "color": "#dddddd", "strokeWidth": 1, "strokeDash": [1, 2]},
 "encoding": {"x": {"datum": "2024-11-07", "type": "ordinal", "bandPosition": 0, "axis": null}, "x2": {"datum": "2025-10-06", "bandPosition": 1}, "y": {"field": "v", "type": "quantitative", "axis": null}}},
{"data": {"name": "idx"}, "mark": {"type": "line", "color": "#ee0000", "strokeWidth": 1.3, "interpolate": "step-after"},
 "encoding": {"x": {"field": "d", "type": "ordinal", "axis": null},
  "y": {"field": "r", "type": "quantitative", "scale": {"domain": [-13.6, 114.1], "range": [181, 0], "nice": false, "zero": false},
   "axis": {"orient": "right", "offset": -83, "values": [0, 40, 80], "format": "d", "ticks": false, "tickSize": 0, "labelPadding": 11, "domain": true, "domainColor": "#303030", "grid": true, "gridColor": "#242424", "labelColor": "#b4b4b4", "labelFontSize": 15, "labelFlush": false, "labelOverlap": false, "labelBaseline": "middle", "title": null}}}},
{"data": {"name": "idx"}, "mark": {"type": "line", "color": "#0000ff", "strokeWidth": 1.3, "interpolate": "step-after"},
 "encoding": {"x": {"field": "d", "type": "ordinal", "axis": null}, "y": {"field": "b", "type": "quantitative", "axis": null}}},
{"data": {"name": "idx"}, "mark": {"type": "line", "color": "#ffff00", "strokeWidth": 1.3, "interpolate": "step-after"},
 "encoding": {"x": {"field": "d", "type": "ordinal", "axis": null}, "y": {"field": "y", "type": "quantitative", "axis": null}}},
{"data": {"values": [{}]}, "mark": {"type": "rule", "color": "#303030", "strokeWidth": 1},
 "encoding": {"y": {"datum": -13.6, "type": "quantitative", "axis": null}}},
{"data": {"values": [{}]}, "mark": {"type": "rule", "color": "#303030", "strokeWidth": 1},
 "encoding": {"x": {"datum": "2025-10-06", "type": "ordinal", "bandPosition": 1, "axis": null}, "y": {"datum": -13.6, "type": "quantitative", "axis": null}, "y2": {"datum": -38.3}}},
{"data": {"name": "months"}, "transform": [{"filter": "datum.m != '2025'"}], "mark": {"type": "text", "fontSize": 16, "color": "#b8b8b8", "align": "center", "baseline": "middle"},
 "encoding": {"x": {"field": "d", "type": "ordinal", "axis": null}, "y": {"datum": -25.5, "type": "quantitative", "axis": null}, "text": {"field": "m"}}},
{"data": {"name": "months"}, "transform": [{"filter": "datum.m == '2025'"}], "mark": {"type": "text", "fontSize": 16, "fontWeight": "bold", "color": "#cfcfcf", "align": "center", "baseline": "middle"},
 "encoding": {"x": {"field": "d", "type": "ordinal", "axis": null}, "y": {"datum": -25.5, "type": "quantitative", "axis": null}, "text": {"field": "m"}}},
{"data": {"values": [{}]}, "mark": {"type": "text", "text": "CMR - COT Index (V25.13)", "fontSize": 11.5, "color": "#c0c0c0", "align": "left", "baseline": "middle"},
 "encoding": {"x": {"datum": "2024-11-08", "type": "ordinal", "bandPosition": 0.33, "axis": null}, "y": {"datum": 103, "type": "quantitative", "axis": null}}},
{"data": {"values": [{}]}, "mark": {"type": "text", "text": "8", "fontSize": 11.5, "color": "#e00000", "align": "left", "baseline": "middle"},
 "encoding": {"x": {"datum": "2024-12-13", "type": "ordinal", "bandPosition": 0.58, "axis": null}, "y": {"datum": 103, "type": "quantitative", "axis": null}}},
{"data": {"values": [{}]}, "mark": {"type": "text", "text": "94", "fontSize": 11.5, "color": "#1818e0", "align": "left", "baseline": "middle"},
 "encoding": {"x": {"datum": "2024-12-17", "type": "ordinal", "bandPosition": 0.88, "axis": null}, "y": {"datum": 103, "type": "quantitative", "axis": null}}},
{"data": {"values": [{}]}, "mark": {"type": "text", "text": "66", "fontSize": 11.5, "fontWeight": "bold", "color": "#ffff00", "align": "left", "baseline": "middle"},
 "encoding": {"x": {"datum": "2024-12-23", "type": "ordinal", "bandPosition": 0.07, "axis": null}, "y": {"datum": 103, "type": "quantitative", "axis": null}}},
{"data": {"values": [{}]}, "mark": {"type": "rule", "opacity": 0},
 "encoding": {"y": {"datum": 94, "type": "quantitative",
  "axis": {"orient": "right", "offset": -83, "values": [94], "format": "d", "ticks": true, "tickSize": 34, "tickWidth": 23, "tickColor": "#0000ff", "tickCap": "butt", "labelPadding": -23, "labelColor": "#ffffff", "labelFontWeight": "bold", "labelFontSize": 15, "labelAlign": "left", "labelBaseline": "middle", "grid": false, "domain": false, "labelFlush": false, "labelOverlap": false, "title": null}}}},
{"data": {"values": [{}]}, "mark": {"type": "rule", "opacity": 0},
 "encoding": {"y": {"datum": 66, "type": "quantitative",
  "axis": {"orient": "right", "offset": -83, "values": [66], "format": "d", "ticks": true, "tickSize": 34, "tickWidth": 23, "tickColor": "#ffff00", "tickCap": "butt", "labelPadding": -23, "labelColor": "#000000", "labelFontSize": 15, "labelAlign": "left", "labelBaseline": "middle", "grid": false, "domain": false, "labelFlush": false, "labelOverlap": false, "title": null}}}},
{"data": {"values": [{}]}, "mark": {"type": "rule", "opacity": 0},
 "encoding": {"y": {"datum": 8, "type": "quantitative",
  "axis": {"orient": "right", "offset": -83, "values": [8], "format": "d", "ticks": true, "tickSize": 26, "tickWidth": 23, "tickColor": "#e60000", "tickCap": "butt", "labelPadding": -15, "labelColor": "#ffffff", "labelFontWeight": "bold", "labelFontSize": 15, "labelAlign": "left", "labelBaseline": "middle", "grid": false, "domain": false, "labelFlush": false, "labelOverlap": false, "title": null}}}}
]
}
]
}
